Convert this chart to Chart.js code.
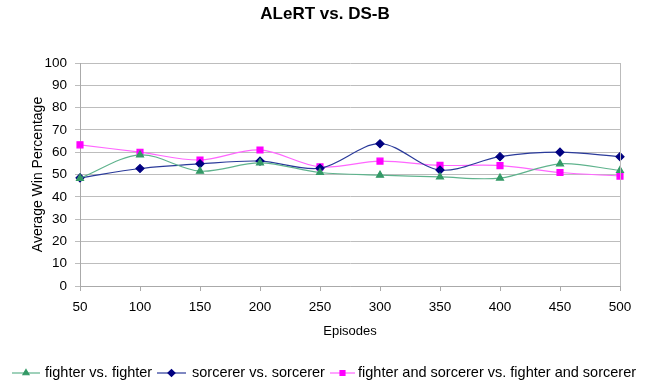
<!DOCTYPE html>
<html><head><meta charset="utf-8">
<script src="https://cdn.jsdelivr.net/npm/chart.js@4/dist/chart.umd.min.js"></script>
<style>html,body{margin:0;padding:0;background:#fff}#wrap{width:650px;height:381px}</style>
</head><body><div id="wrap"><canvas id="c" width="650" height="381"></canvas></div>
<script>
const episodes = ['50','100','150','200','250','300','350','400','450','500'];
const fighterVsFighter = [48.3, 58.8, 51.5, 55.2, 50.9, 49.7, 48.9, 48.4, 54.8, 51.8];
const sorcererVsSorcerer = [48.5, 52.7, 54.8, 56.0, 52.8, 63.8, 52.0, 58.0, 60.0, 58.0];
const mixedVsMixed = [63.3, 60.0, 56.5, 61.0, 53.4, 56.0, 54.1, 54.0, 50.9, 49.3];
const seriesNames = ['fighter vs. fighter', 'sorcerer vs. sorcerer', 'fighter and sorcerer vs. fighter and sorcerer'];
const yTicks = [0,10,20,30,40,50,60,70,80,90,100];

const FONT = 'Liberation Sans, Arial, sans-serif';
const styles = [
  {line:'#5fb38d', point:'#339966', ps:'triangle', r:4},
  {line:'#2a3a9a', point:'#000080', ps:'rectRot', r:4},
  {line:'#ff66ff', point:'#ff00ff', ps:'rect', r:4.2}
];
const datas = [fighterVsFighter, sorcererVsSorcerer, mixedVsMixed];

const legendPlugin = {
  id:'customLegend',
  afterDraw(chart){
    const ctx = chart.ctx;
    const y = 373;
    const items = [
      {x1:12, x2:40, tx:45},
      {x1:157, x2:186, tx:192},
      {x1:330, x2:355, tx:358}
    ];
    ctx.save();
    items.forEach((it,i)=>{
      const s = styles[i];
      ctx.strokeStyle = s.line; ctx.lineWidth = 1.2;
      ctx.beginPath(); ctx.moveTo(it.x1,y); ctx.lineTo(it.x2,y); ctx.stroke();
      ctx.fillStyle = s.point; ctx.strokeStyle = s.point;
      Chart.helpers.drawPoint(ctx,{pointStyle:s.ps, radius:3.5, borderWidth:1}, (it.x1+it.x2)/2, y);
      ctx.fillStyle = '#000'; ctx.font = '14.5px '+FONT; ctx.textBaseline='middle'; ctx.textAlign='left';
      ctx.fillText(seriesNames[i], it.tx, y);
    });
    ctx.restore();
  }
};

const LEFT = 30, TOP_AREA = 63, BOTTOM_AREA = 286;
new Chart(document.getElementById('c'), {
  type:'line',
  data:{
    labels: episodes,
    datasets: datas.map((d,i)=>({
      label: seriesNames[i], data: d,
      borderColor: styles[i].line, backgroundColor: styles[i].point,
      pointBackgroundColor: styles[i].point, pointBorderColor: styles[i].point,
      pointStyle: styles[i].ps, pointRadius: styles[i].r, borderWidth: 1.2,
      tension: 0.33, cubicInterpolationMode:'default', fill:false
    }))
  },
  options:{
    responsive:false, animation:false, devicePixelRatio:1,
    layout:{padding:{left:LEFT, right:30, top:0, bottom:381-BOTTOM_AREA-53}},
    plugins:{
      legend:{display:false}, tooltip:{enabled:false},
      title:{display:true, text:'ALeRT vs. DS-B', color:'#000', font:{family:FONT, size:17, weight:'bold'}, padding:{top:4, bottom:TOP_AREA-4-20.4}}
    },
    scales:{
      x:{
        offset:false,
        afterFit(s){ s.height = 53; },
        grid:{display:true, drawOnChartArea:false, color:'#aaa', tickLength:5},
        border:{color:'#aaa'},
        ticks:{color:'#000', font:{family:FONT, size:13.5}, padding:8, maxRotation:0},
        title:{display:true, text:'Episodes', color:'#000', font:{family:FONT, size:13}, padding:{top:0,bottom:0}}
      },
      y:{
        min:0, max:100,
        afterFit(s){ s.width = 80 - LEFT; },
        afterBuildTicks(scale){ scale.ticks = yTicks.map(v=>({value:v})); },
        grid:{color:'#bdbdbd', drawTicks:true, tickLength:5},
        border:{color:'#aaa'},
        ticks:{color:'#000', font:{family:FONT, size:13.5}, padding:8},
        title:{display:true, text:'Average Win Percentage', color:'#000', font:{family:FONT, size:14}, padding:{top:0,bottom:0}}
      }
    }
  },
  plugins:[legendPlugin, {
    id:'rightBorder',
    afterDraw(chart){
      const {ctx, chartArea:a} = chart;
      ctx.save(); ctx.strokeStyle='#bbb'; ctx.lineWidth=1;
      ctx.beginPath(); ctx.moveTo(a.right+0.5,a.top); ctx.lineTo(a.right+0.5,a.bottom); ctx.stroke();
      ctx.restore();
    }
  }]
});
</script></body></html>
